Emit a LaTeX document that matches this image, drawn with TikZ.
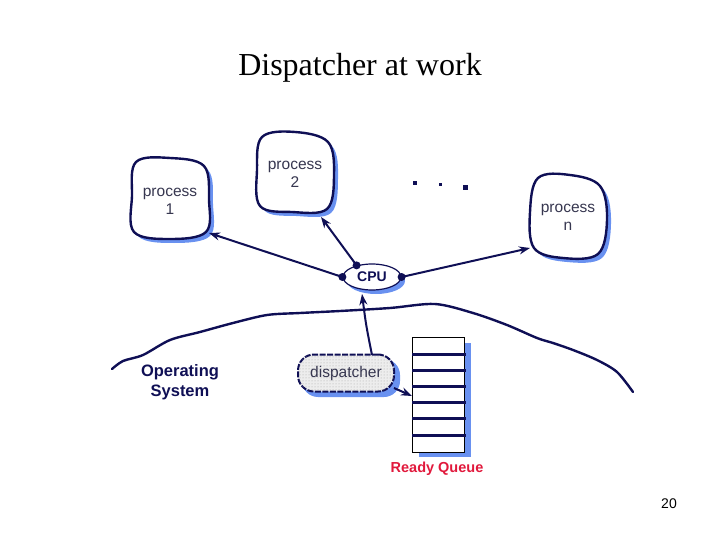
\documentclass[tikz,border=0pt]{standalone}
\usepackage{fontspec}
\setmainfont{Liberation Serif}
\setsansfont{Liberation Sans}
\usetikzlibrary{shapes.geometric,arrows.meta,patterns}
\definecolor{navy}{RGB}{15,15,85}
\definecolor{shadowblue}{RGB}{105,145,240}
\definecolor{txtgray}{RGB}{55,55,80}
\definecolor{qred}{RGB}{225,25,60}
\newcommand{\procblob}[1]{%
  \fill[shadowblue,xshift=4pt,yshift=-4pt] plot[smooth cycle, tension=0.6] coordinates {#1};
  \filldraw[fill=white,draw=navy,line width=2.4pt] plot[smooth cycle, tension=0.6] coordinates {#1};}
\begin{document}
\begin{tikzpicture}[x=1pt,y=-1pt,
  lab/.style={font=\sffamily\fontsize{15.5}{18}\selectfont, text=txtgray, align=center},
  arr/.style={draw=navy, line width=2pt, -{Stealth[length=11pt,width=8pt]}},
  cpudot/.style={circle, fill=navy, inner sep=0pt, minimum size=8pt},
  ell/.style={fill=navy, inner sep=0pt},
]
\useasboundingbox (0,0) rectangle (720,540);

\node[font=\rmfamily\fontsize{32}{38}\selectfont] (title) at (360,68) {Dispatcher at work};

% process blobs
\procblob{(136,162) (170,158) (204,166) (209,200) (206,232) (170,239) (134,232) (132,196)}
\procblob{(262,137) (295,132) (328,142) (334,175) (327,209) (292,212) (260,206) (257,170)}
\procblob{(538,178) (570,175) (600,186) (607,220) (598,254) (563,258) (534,248) (530,212)}
\node[lab] (p1) at (170,201) {process\\1};
\node[lab] (p2) at (295,174) {process\\2};
\node[lab] (pn) at (568,217) {process\\n};

% ellipsis dots
\node[ell, minimum size=4pt] (e1) at (415,183) {};
\node[ell, minimum size=3pt] (e2) at (440,185) {};
\node[ell, minimum size=5pt] (e3) at (465,188) {};

% OS boundary curve
\draw[navy, line width=2.4pt, line cap=round] plot[smooth, tension=0.5] coordinates {
 (112,369) (123,361) (143,355) (170,340) (200,332) (233,323) (267,315)
 (300,313) (340,311) (390,308) (435,304) (473,313) (507,325) (537,338)
 (553,343) (573,350) (597,360) (617,372) (633,392)};

% CPU
\fill[shadowblue] (376,281) ellipse [x radius=29pt, y radius=13pt];
\node[ellipse, draw=navy, fill=white, line width=1.2pt, minimum width=58pt,
      minimum height=26pt, inner sep=0pt,
      font=\sffamily\bfseries\fontsize{14}{15}\selectfont, text=navy] (cpu) at (372,277) {CPU};

% dispatcher
\fill[shadowblue, rounded corners=16pt] (302,359) rectangle (400,397);
\node[draw=navy, line width=2pt, dash pattern=on 6pt off 1.5pt, rounded corners=16pt,
      fill=gray!14, postaction={pattern=dots, pattern color=gray!70},
      minimum width=96pt, minimum height=37pt, inner sep=0pt,
      font=\sffamily\fontsize{15.5}{18}\selectfont, text=txtgray] (disp) at (346,373) {dispatcher};

% ready queue
\fill[shadowblue] (419,343) rectangle (471,457);
\node[draw=black, line width=0.8pt, fill=white, minimum width=52pt, minimum height=115pt,
      inner sep=0pt] (rq) at (438,394.5) {};
\foreach \yy in {354,370,386,402,418,435}
  \draw[navy, line width=3pt] (412,\yy) -- (466,\yy);
\node[font=\sffamily\bfseries\fontsize{14.5}{16}\selectfont, text=qred] (rqlabel) at (437,469) {Ready Queue};

\node[font=\sffamily\bfseries\fontsize{16.5}{20}\selectfont, text=navy, align=center] (os) at (180,382) {Operating\\System};

% connectors
\coordinate (p1in) at (209,233);
\coordinate (p2in) at (321,217);
\coordinate (pnin) at (530,248);
\coordinate (cpuin) at (362,294);
\coordinate (dtop) at (372,355);
\coordinate (dout) at (394,388);
\coordinate (qin) at (412,396);
\draw[arr] (cpu.west) -- (p1in);
\draw[arr] (cpu.143) -- (p2in);
\draw[arr] (cpu.east) -- (pnin);
\draw[arr] (dtop) .. controls (366,325) .. (cpuin);
\draw[arr] (dout) -- (qin);
\node[cpudot] (dw) at (cpu.west) {};
\node[cpudot] (dn) at (cpu.143) {};
\node[cpudot] (de) at (cpu.east) {};

\node[font=\sffamily\fontsize{14}{16}\selectfont] (pg) at (669,504) {20};
\end{tikzpicture}
\end{document}
